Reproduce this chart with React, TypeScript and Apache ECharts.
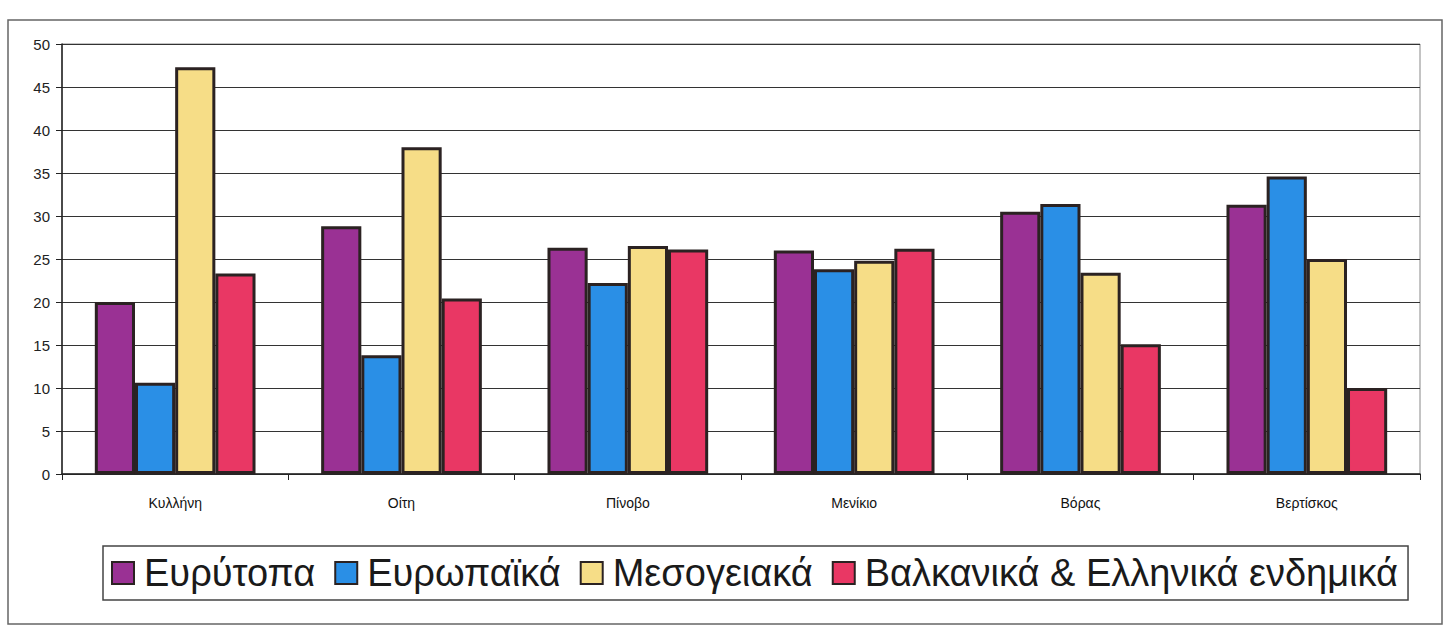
import React, { useEffect, useRef } from "react";
import * as echarts from "echarts";

const categories = ["Κυλλήνη", "Οίτη", "Πίνοβο", "Μενίκιο", "Βόρας", "Βερτίσκος"];
const seriesNames = ["Ευρύτοπα", "Ευρωπαϊκά", "Μεσογειακά", "Βαλκανικά & Ελληνικά ενδημικά"];
const eurytopa = [20, 28.8, 26.3, 26, 30.5, 31.3];
const evropaika = [10.6, 13.8, 22.2, 23.8, 31.4, 34.6];
const mesogeiaka = [47.3, 38, 26.5, 24.8, 23.4, 25];
const valkanika = [23.3, 20.4, 26.1, 26.2, 15.1, 10];
const yTicks = [0, 5, 10, 15, 20, 25, 30, 35, 40, 45, 50];
const colors = ["#9a3194", "#2a8fe6", "#f6dd87", "#e93764"];

export default function App() {
  const ref = useRef<HTMLDivElement>(null);
  useEffect(() => {
    if (!ref.current) return;
    const chart = echarts.init(ref.current, undefined, { renderer: "svg" });
    const values = [eurytopa, evropaika, mesogeiaka, valkanika];
    chart.setOption({
      animation: false,
      backgroundColor: "#ffffff",
      textStyle: { fontFamily: "Arial, 'Liberation Sans', sans-serif" },
      graphic: [
        {
          type: "rect",
          shape: { x: 8, y: 20, width: 1434, height: 604 },
          style: { fill: "none", stroke: "#666", lineWidth: 1.5 },
          silent: true,
        },
      ],
      grid: {
        left: 62,
        right: 35,
        top: 44,
        bottom: 159,
        show: true,
        borderColor: "#888",
        borderWidth: 1,
        backgroundColor: "transparent",
      },
      legend: {
        data: seriesNames,
        left: 103,
        top: 546,
        orient: "horizontal",
        borderColor: "#444",
        borderWidth: 1.5,
        padding: [8, 10, 8, 8],
        itemGap: 19,
        itemWidth: 22,
        itemHeight: 22,
        icon: "rect",
        textStyle: {
          fontSize: 38,
          color: "#1a1a1a",
          fontFamily: "Arial, 'Liberation Sans', sans-serif",
          padding: [0, 0, 0, 5],
        },
      },
      xAxis: {
        type: "category",
        data: categories,
        boundaryGap: true,
        axisLine: { lineStyle: { color: "#222", width: 1.5 } },
        axisTick: { show: true, alignWithLabel: false, length: 6, lineStyle: { color: "#222" } },
        axisLabel: { fontSize: 14, color: "#111", margin: 22 },
      },
      yAxis: {
        type: "value",
        min: yTicks[0],
        max: yTicks[yTicks.length - 1],
        interval: 5,
        axisLine: { show: true, lineStyle: { color: "#222", width: 1.5 } },
        axisTick: { show: true, length: 6, lineStyle: { color: "#222" } },
        axisLabel: { fontSize: 15, color: "#222", margin: 12 },
        splitLine: { show: true, lineStyle: { color: "#333", width: 1 } },
      },
      series: seriesNames.map((name, i) => ({
        name,
        type: "bar",
        data: values[i],
        barGap: "0%",
        barCategoryGap: "29%",
        itemStyle: { color: colors[i], borderColor: "#2b2222", borderWidth: 3 },
      })),
    });
    return () => chart.dispose();
  }, []);
  return (
    <div
      ref={ref}
      style={{ position: "fixed", left: 0, top: 0, width: 1455, height: 633 }}
    />
  );
}
